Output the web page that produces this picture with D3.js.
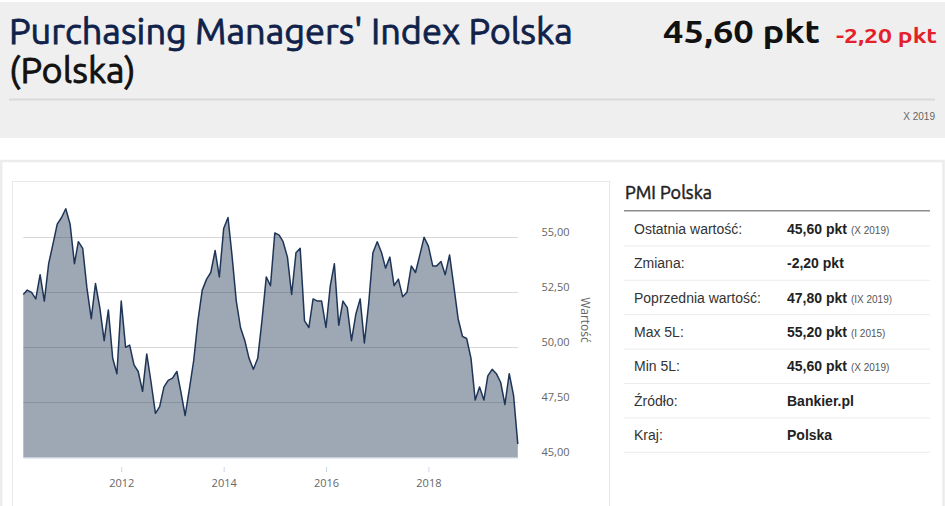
<!DOCTYPE html>
<html>
<head>
<meta charset="utf-8">
<script src="https://cdn.jsdelivr.net/npm/d3@7"></script>
<style>
  body { margin: 0; background: #fff; }
  svg { display: block; }
</style>
</head>
<body>
<svg id="page" width="945" height="506"></svg>
<script>
// monthly PMI values (2010 starts in February, 2019 ends in October)
var pmi2010 = [52.4, 52.6, 52.5, 52.2, 53.3, 52.1, 53.8, 54.7, 55.6, 55.9, 56.3];
var pmi2011 = [55.6, 53.8, 54.8, 54.5, 52.7, 51.3, 52.9, 51.8, 50.3, 51.7, 49.5, 48.8];
var pmi2012 = [52.1, 50.0, 50.1, 49.2, 48.9, 48.0, 49.7, 48.4, 47.0, 47.3, 48.2, 48.5];
var pmi2013 = [48.6, 48.9, 48.0, 46.9, 48.1, 49.4, 51.2, 52.6, 53.1, 53.4, 54.4, 53.2];
var pmi2014 = [55.4, 55.9, 54.2, 52.1, 50.9, 50.3, 49.5, 49.0, 49.5, 51.2, 53.2, 52.8];
var pmi2015 = [55.2, 55.1, 54.8, 54.1, 52.4, 54.3, 54.5, 51.2, 50.9, 52.2, 52.1, 52.1];
var pmi2016 = [50.9, 52.8, 53.8, 51.0, 52.1, 51.8, 50.3, 51.5, 52.2, 50.2, 52.0, 54.3];
var pmi2017 = [54.8, 54.3, 53.6, 54.1, 52.8, 53.1, 52.3, 52.5, 53.7, 53.4, 54.2, 55.0];
var pmi2018 = [54.6, 53.7, 53.7, 53.9, 53.3, 54.2, 52.8, 51.3, 50.5, 50.4, 49.5, 47.6];
var pmi2019 = [48.2, 47.6, 48.7, 49.0, 48.8, 48.4, 47.4, 48.8, 47.8, 45.6];

var yTicks = [45, 47.5, 50, 52.5, 55];
var xTickYears = [2012, 2014, 2016, 2018];

var titleText = "Purchasing Managers' Index Polska";
var subTitleText = "(Polska)";
var lastValue = "45,60 pkt";
var lastChange = "-2,20 pkt";
var lastPeriod = "X 2019";
var yAxisTitle = "Wartość";

var tableTitle = "PMI Polska";
var tableLabels = ["Ostatnia wartość:", "Zmiana:", "Poprzednia wartość:", "Max 5L:", "Min 5L:", "Źródło:", "Kraj:"];
var tableValues = ["45,60 pkt", "-2,20 pkt", "47,80 pkt", "55,20 pkt", "45,60 pkt", "Bankier.pl", "Polska"];
var tableDates = ["(X 2019)", "", "(IX 2019)", "(I 2015)", "(X 2019)", "", ""];

// build {date, value} rows from the yearly arrays
var years = [
    [2010, 1, pmi2010], [2011, 0, pmi2011], [2012, 0, pmi2012], [2013, 0, pmi2013],
    [2014, 0, pmi2014], [2015, 0, pmi2015], [2016, 0, pmi2016], [2017, 0, pmi2017],
    [2018, 0, pmi2018], [2019, 0, pmi2019]
];
var myData = [];
years.forEach(function(y) {
    y[2].forEach(function(v, i) {
        myData.push({date: new Date(y[0], y[1] + i, 1), value: v});
    });
});

var svg = d3.select("#page");
var headFont = "Ubuntu, 'Open Sans', sans-serif";
var tableFont = "'Liberation Sans', Arial, sans-serif";

function fitWidth(sel, w) {
    var fs = parseFloat(sel.attr("font-size"));
    var cur = sel.node().getComputedTextLength();
    if (cur > 0) sel.attr("font-size", fs * w / cur);
    return sel;
}

// ---- header ----
svg.append("rect").attr("x", 0).attr("y", 2).attr("width", 945).attr("height", 136).attr("fill", "#efefef");

// no medium face installed, so a thin stroke thickens the regular one
var t1 = svg.append("text")
    .attr("x", 9).attr("y", 44)
    .attr("font-family", headFont).attr("font-size", 32)
    .attr("fill", "#10224a").attr("stroke", "#10224a").attr("stroke-width", 0.8)
    .text(titleText);
fitWidth(t1, 564);

svg.append("text")
    .attr("x", 9).attr("y", 83)
    .attr("font-family", headFont).attr("font-size", t1.attr("font-size"))
    .attr("fill", "#111").attr("stroke", "#111").attr("stroke-width", 0.8)
    .text(subTitleText);

svg.append("text")
    .attr("x", 820).attr("y", 43)
    .attr("text-anchor", "end")
    .attr("font-family", headFont).attr("font-size", 31).attr("font-weight", 700)
    .attr("fill", "#111")
    .attr("textLength", 157).attr("lengthAdjust", "spacingAndGlyphs")
    .text(lastValue);

svg.append("text")
    .attr("x", 937).attr("y", 43)
    .attr("text-anchor", "end")
    .attr("font-family", headFont).attr("font-size", 21).attr("font-weight", 700)
    .attr("fill", "#e3212b")
    .attr("textLength", 101).attr("lengthAdjust", "spacingAndGlyphs")
    .text(lastChange);

svg.append("line")
    .attr("x1", 9).attr("x2", 935).attr("y1", 99.5).attr("y2", 99.5)
    .attr("stroke", "#d9d9d9").attr("stroke-width", 2);

svg.append("text")
    .attr("x", 935).attr("y", 120)
    .attr("text-anchor", "end")
    .attr("font-family", tableFont).attr("font-size", 10)
    .attr("fill", "#666")
    .text(lastPeriod);

// ---- boxes ----
svg.append("rect").attr("x", 1.2).attr("y", 161).attr("width", 942.3).attr("height", 400)
    .attr("fill", "none").attr("stroke", "#ececec").attr("stroke-width", 2.5);
svg.append("rect").attr("x", 12.5).attr("y", 181.5).attr("width", 597).attr("height", 400)
    .attr("fill", "none").attr("stroke", "#e8e8e8").attr("stroke-width", 1);

// ---- chart ----
var plotLeft = 23.3, plotRight = 517.8;
var xScale = d3.scaleTime()
    .domain(d3.extent(myData, d => d.date))
    .range([plotLeft, plotRight]);
var yScale = d3.scaleLinear().domain([45, 55]).range([457.3, 237.3]);

var plFormat = d3.formatLocale({decimal: ",", thousands: " ", grouping: [3], currency: ["", " zł"]}).format(".2f");

svg.append("g").attr("class", "grid")
    .selectAll("line").data(yTicks).enter().append("line")
    .attr("x1", plotLeft).attr("x2", plotRight)
    .attr("y1", d => Math.round(yScale(d)) + 0.5).attr("y2", d => Math.round(yScale(d)) + 0.5)
    .attr("stroke", "#d8d8d8").attr("stroke-width", 1);

var area = d3.area()
    .x(d => xScale(d.date))
    .y0(yScale(45))
    .y1(d => yScale(d.value));
var line = d3.line()
    .x(d => xScale(d.date))
    .y(d => yScale(d.value));

svg.append("path")
    .attr("d", area(myData))
    .attr("fill", "#1e3250").attr("fill-opacity", 0.43).attr("stroke", "none");
svg.append("path")
    .attr("d", line(myData))
    .attr("fill", "none").attr("stroke", "#1f3557").attr("stroke-width", 1.5)
    .attr("stroke-linejoin", "round");

// x axis
svg.append("line")
    .attr("x1", plotLeft).attr("x2", plotRight).attr("y1", 458).attr("y2", 458)
    .attr("stroke", "#ccd6eb").attr("stroke-width", 1);

var xAxis = svg.append("g")
    .attr("transform", "translate(0,467)")
    .call(d3.axisBottom(xScale)
        .tickValues(xTickYears.map(y => new Date(y, 0, 1)))
        .tickFormat(d3.timeFormat("%Y"))
        .tickSize(5).tickPadding(7));
xAxis.select(".domain").remove();
xAxis.selectAll(".tick line").attr("stroke", "#ccd6eb");
xAxis.selectAll(".tick text")
    .attr("fill", "#666").attr("font-family", "'Open Sans', sans-serif").attr("font-size", 11);

// y axis (right)
var yAxis = svg.append("g")
    .attr("transform", "translate(" + plotRight + ",0)")
    .call(d3.axisRight(yScale).tickValues(yTicks).tickFormat(plFormat).tickSize(0).tickPadding(23.7));
yAxis.select(".domain").remove();
yAxis.selectAll(".tick text")
    .attr("dy", null).attr("y", -1.5)
    .attr("fill", "#666").attr("font-family", "'Open Sans', sans-serif").attr("font-size", 11);

svg.append("text")
    .attr("transform", "translate(581,320) rotate(90)")
    .attr("text-anchor", "middle")
    .attr("font-family", "'Open Sans', sans-serif").attr("font-size", 12)
    .attr("fill", "#666")
    .text(yAxisTitle);

// ---- side table ----
var tt = svg.append("text")
    .attr("x", 625).attr("y", 198.5)
    .attr("font-family", headFont).attr("font-size", 17)
    .attr("fill", "#222").attr("stroke", "#222").attr("stroke-width", 0.5)
    .text(tableTitle);
fitWidth(tt, 87);

svg.append("line")
    .attr("x1", 624).attr("x2", 930).attr("y1", 210.7).attr("y2", 210.7)
    .attr("stroke", "#8c8c8c").attr("stroke-width", 1.5);

var rowH = 34.4, rowTop = 212;
var rows = svg.append("g").selectAll("g").data(tableLabels).enter().append("g")
    .attr("transform", (d, i) => "translate(0," + (rowTop + rowH * (i + 1)) + ")");

rows.append("line")
    .attr("x1", 624).attr("x2", 930).attr("y1", -0.5).attr("y2", -0.5)
    .attr("stroke", "#ececec").attr("stroke-width", 1);

rows.append("text")
    .attr("x", 634).attr("y", -12.6)
    .attr("font-family", tableFont).attr("font-size", 14)
    .attr("fill", "#333")
    .text(d => d);

var vals = rows.append("text")
    .attr("x", 787).attr("y", -12.6)
    .attr("font-family", tableFont).attr("font-size", 14)
    .attr("fill", "#222");
vals.append("tspan").attr("font-weight", 700).text((d, i) => tableValues[i]);
vals.append("tspan").attr("dx", 4).attr("font-size", 10).attr("fill", "#555")
    .text((d, i) => tableDates[i]);
</script>
</body>
</html>
